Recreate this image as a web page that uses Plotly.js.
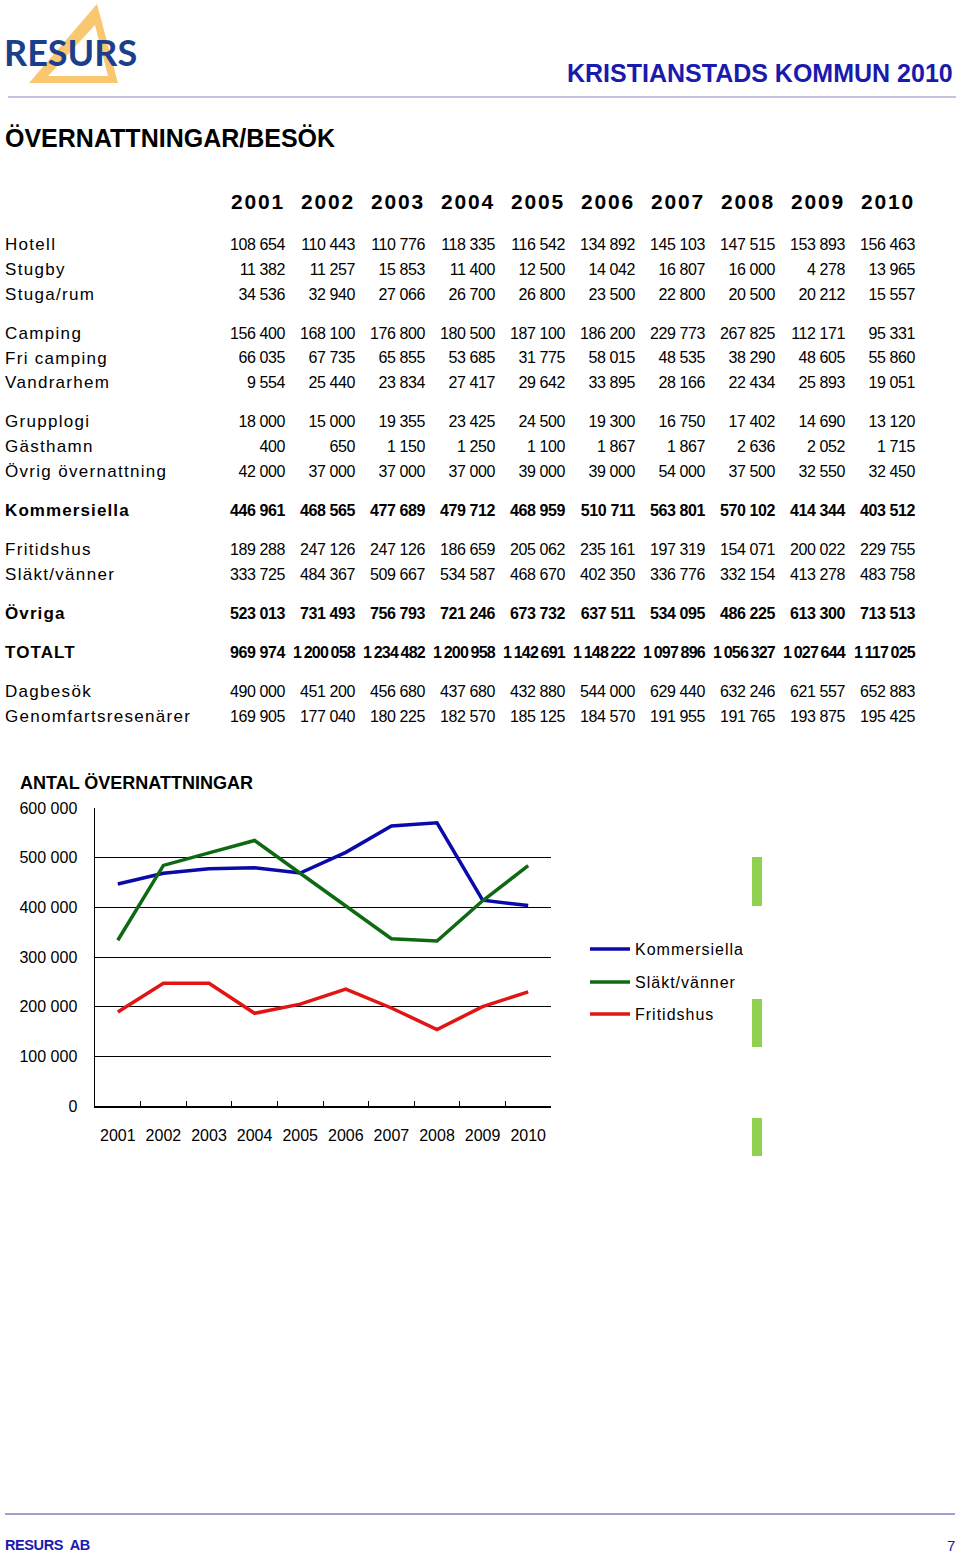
<!DOCTYPE html>
<html><head><meta charset="utf-8">
<script src="https://cdn.plot.ly/plotly-3.0.1.min.js"></script>
<style>html,body{margin:0;padding:0;background:#fff}#page{width:960px;height:1556px}</style>
</head><body><div id="page"></div>
<script>
// ---------- DATA ----------
const years = ['2001','2002','2003','2004','2005','2006','2007','2008','2009','2010'];
const rowLabels = ['Hotell','Stugby','Stuga/rum','Camping','Fri camping','Vandrarhem','Grupplogi','Gästhamn','Övrig övernattning','Kommersiella','Fritidshus','Släkt/vänner','Övriga','TOTALT','Dagbesök','Genomfartsresenärer'];
const rowGroups = [0,0,0,1,1,1,2,2,2,3,4,4,5,6,7,7];
const boldRows = ['Kommersiella','Övriga','TOTALT'];
const hotell = [108654,110443,110776,118335,116542,134892,145103,147515,153893,156463];
const stugby = [11382,11257,15853,11400,12500,14042,16807,16000,4278,13965];
const stugaRum = [34536,32940,27066,26700,26800,23500,22800,20500,20212,15557];
const camping = [156400,168100,176800,180500,187100,186200,229773,267825,112171,95331];
const friCamping = [66035,67735,65855,53685,31775,58015,48535,38290,48605,55860];
const vandrarhem = [9554,25440,23834,27417,29642,33895,28166,22434,25893,19051];
const grupplogi = [18000,15000,19355,23425,24500,19300,16750,17402,14690,13120];
const gasthamn = [400,650,1150,1250,1100,1867,1867,2636,2052,1715];
const ovrigOvernattning = [42000,37000,37000,37000,39000,39000,54000,37500,32550,32450];
const kommersiella = [446961,468565,477689,479712,468959,510711,563801,570102,414344,403512];
const fritidshus = [189288,247126,247126,186659,205062,235161,197319,154071,200022,229755];
const slaktVanner = [333725,484367,509667,534587,468670,402350,336776,332154,413278,483758];
const ovriga = [523013,731493,756793,721246,673732,637511,534095,486225,613300,713513];
const totalt = [969974,1200058,1234482,1200958,1142691,1148222,1097896,1056327,1027644,1117025];
const dagbesok = [490000,451200,456680,437680,432880,544000,629440,632246,621557,652883];
const genomfart = [169905,177040,180225,182570,185125,184570,191955,191765,193875,195425];
const rowValues = [hotell,stugby,stugaRum,camping,friCamping,vandrarhem,grupplogi,gasthamn,ovrigOvernattning,kommersiella,fritidshus,slaktVanner,ovriga,totalt,dagbesok,genomfart];

const chartSeries = [
  {name:'Kommersiella', values: kommersiella, color:'#0A0AAA'},
  {name:'Släkt/vänner', values: slaktVanner, color:'#0E6A12'},
  {name:'Fritidshus', values: fritidshus, color:'#E21515'}
];

// ---------- HELPERS ----------
const W = 960, H = 1556;
const FONT = 'Liberation Sans, Arial, sans-serif';
const px = x => x / W;
const py = y => 1 - y / H;
const ls = (t, s) => `<span style="letter-spacing:${s}px">${t}</span>`;
function fmt(v){
  if (v >= 1e6) return ls(String(v).replace(/\B(?=(\d{3})+(?!\d))/g, '\u2009'), -0.75);
  return ls(String(v).replace(/\B(?=(\d{3})+(?!\d))/g, ' '), -0.4);
}
const GAP = 0.58;
const rowPos = rowLabels.map((_, i) => i + GAP * rowGroups[i]);
const headerPos = -1.7;
const colIdx = years.map((_, i) => i);
const ROW0 = 246, ROWH = 24.75;

// ---------- TRACES ----------
const traces = [];
chartSeries.forEach((s, k) => {
  traces.push({
    type:'scatter', mode:'lines', x: years, y: s.values, name: ls(s.name, 1),
    line:{color: s.color, width: 3.5}, xaxis:'x', yaxis:'y',
    legend: k === 0 ? 'legend' : 'legend' + (k + 1), hoverinfo:'skip'
  });
});

// year header
traces.push({
  type:'scatter', mode:'text', x: colIdx, y: years.map(() => headerPos),
  text: years.map(y => ls(y, 1.8)), textposition:'middle left',
  textfont:{family: FONT, size: 21, color:'#000', weight: 700},
  xaxis:'x2', yaxis:'y2', showlegend:false, hoverinfo:'skip', cliponaxis:false
});
// row labels
traces.push({
  type:'scatter', mode:'text', x: rowLabels.map(() => -4), y: rowPos,
  text: rowLabels.map(l => boldRows.includes(l) ? ls(l, 1.1) : ls(l, 1.3)),
  textposition:'middle right',
  textfont:{family: FONT, size: 17, color:'#000', weight: rowLabels.map(l => boldRows.includes(l) ? 700 : 400)},
  xaxis:'x2', yaxis:'y2', showlegend:false, hoverinfo:'skip', cliponaxis:false
});
// cells
rowValues.forEach((vals, i) => {
  const bold = boldRows.includes(rowLabels[i]);
  traces.push({
    type:'scatter', mode:'text', x: colIdx, y: vals.map(() => rowPos[i]),
    text: vals.map(fmt), textposition:'middle left',
    textfont:{family: FONT, size: 16, color:'#000', weight: bold ? 700 : 400},
    xaxis:'x2', yaxis:'y2', showlegend:false, hoverinfo:'skip', cliponaxis:false
  });
});

// ---------- LAYOUT ----------
const orange = '#F9C770';
const shapes = [
  {type:'path', xref:'paper', yref:'paper', fillrule:'evenodd',
   path:`M${px(97)},${py(4)} L${px(29)},${py(83)} L${px(118)},${py(83)} Z M${px(95)},${py(25)} L${px(48)},${py(76)} L${px(108)},${py(76)} Z`,
   fillcolor: orange, line:{width:0}, layer:'below'},
  {type:'line', xref:'paper', yref:'paper', x0:px(8), x1:px(956), y0:py(97), y1:py(97), line:{color:'#8A8AC4', width:1.2}},
  {type:'line', xref:'paper', yref:'paper', x0:px(5), x1:px(955), y0:py(1514), y1:py(1514), line:{color:'#A0A0CC', width:2}},
  {type:'rect', xref:'paper', yref:'paper', x0:px(752), x1:px(762), y0:py(857), y1:py(906), fillcolor:'#92D050', line:{width:0}},
  {type:'rect', xref:'paper', yref:'paper', x0:px(752), x1:px(762), y0:py(999), y1:py(1047), fillcolor:'#92D050', line:{width:0}},
  {type:'rect', xref:'paper', yref:'paper', x0:px(752), x1:px(762), y0:py(1118), y1:py(1156), fillcolor:'#92D050', line:{width:0}}
];

const annotations = [
  {xref:'paper', yref:'paper', x:px(2), y:py(52), xanchor:'left', yanchor:'middle', showarrow:false,
   text:'RESURS', font:{family:'Lato, Open Sans, sans-serif', size:36, color:'#1C3F8C', weight:700}},
  {xref:'paper', yref:'paper', x:px(955), y:py(73), xanchor:'right', yanchor:'middle', showarrow:false,
   text:'KRISTIANSTADS KOMMUN 2010', font:{family:FONT, size:25, color:'#1A1AAE', weight:700}},
  {xref:'paper', yref:'paper', x:px(3), y:py(138), xanchor:'left', yanchor:'middle', showarrow:false,
   text:'ÖVERNATTNINGAR/BESÖK', font:{family:FONT, size:25, color:'#000', weight:700}},
  {xref:'paper', yref:'paper', x:px(18), y:py(783), xanchor:'left', yanchor:'middle', showarrow:false,
   text:'ANTAL ÖVERNATTNINGAR', font:{family:FONT, size:18, color:'#000', weight:700}},
  {xref:'paper', yref:'paper', x:px(3), y:py(1545), xanchor:'left', yanchor:'middle', showarrow:false,
   text:ls('RESURS  AB', -0.4), font:{family:'Liberation Sans Narrow, Liberation Sans, Arial, sans-serif', size:14.5, color:'#1A1AAE', weight:700}},
  {xref:'paper', yref:'paper', x:px(957), y:py(1545), xanchor:'right', yanchor:'middle', showarrow:false,
   text:'7', font:{family:'Liberation Sans Narrow, Liberation Sans, Arial, sans-serif', size:15, color:'#1A1AAE'}}
];

function legendAt(y){
  return {x: px(585), y: py(y), xanchor:'left', yanchor:'middle', bgcolor:'rgba(0,0,0,0)', borderwidth:0,
          font:{family:FONT, size:16, color:'#000'}, itemwidth:40, tracegroupgap:0};
}

const layout = {
  width: W, height: H, margin:{l:0,r:0,t:0,b:0,pad:0}, autosize:false,
  paper_bgcolor:'#fff', plot_bgcolor:'rgba(0,0,0,0)',
  separators:', ', font:{family:FONT, color:'#000'},
  showlegend:true,
  legend: legendAt(949), legend2: legendAt(982), legend3: legendAt(1014),
  xaxis:{domain:[px(95), px(551)], type:'category', range:[-0.5, 9.5], fixedrange:true,
         showline:true, linecolor:'#000', linewidth:1.5, ticks:'inside', tickson:'boundaries', ticklen:5, tickcolor:'#000', tickwidth:1,
         showgrid:false, zeroline:false, tickfont:{family:FONT, size:16, color:'#000'}, ticklabelstandoff:14},
  yaxis:{domain:[py(1106), py(808)], range:[0, 600000], dtick:100000, tickformat:',d', fixedrange:true,
         showline:true, linecolor:'#000', linewidth:1.5, ticks:'', showgrid:true, gridcolor:'#000', gridwidth:1,
         zeroline:false, tickfont:{family:FONT, size:16, color:'#000'}, ticklabelstandoff:13},
  xaxis2:{domain:[0,1], range:[-285/70, (W-285)/70], visible:false, fixedrange:true, anchor:'y2'},
  yaxis2:{domain:[0,1], range:[(H-ROW0)/ROWH, -ROW0/ROWH], visible:false, fixedrange:true, anchor:'x2'},
  shapes, annotations
};

Plotly.newPlot('page', traces, layout, {staticPlot:true, displayModeBar:false});
</script></body></html>
